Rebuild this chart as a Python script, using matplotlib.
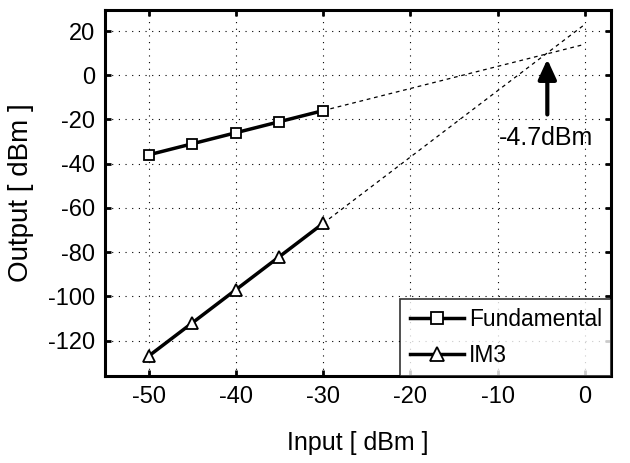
import matplotlib
matplotlib.use("Agg")
import matplotlib.pyplot as plt
import numpy as np

plt.rcParams['font.family'] = ['Liberation Sans', 'DejaVu Sans']
plt.rcParams['axes.unicode_minus'] = False

input_dbm = [-50, -45, -40, -35, -30]
fundamental = [-36, -31, -26, -21, -16]
im3 = [-127, -112, -97, -82, -67]
extrap_x = [-30, 0]
fund_extrap = [-16, 14]
im3_extrap = [-67, 23]
xticks = [-50, -40, -30, -20, -10, 0]
yticks = [20, 0, -20, -40, -60, -80, -100, -120]
iip3_x = -4.7

fig = plt.figure(figsize=(6.3, 4.63), dpi=100)
ax = fig.add_axes([105/630, 1-376/463, (611-105)/630, (376-10)/463])

ax.plot(extrap_x, fund_extrap, color='black', lw=0.9, ls=(0, (3, 3)))
ax.plot(extrap_x, im3_extrap, color='black', lw=0.9, ls=(0, (3, 3)))
ax.plot(input_dbm, fundamental, color='black', lw=2.5, marker='s', ms=7.5,
        mfc='white', mec='black', mew=1.3, label='Fundamental')
ax.plot(input_dbm, im3, color='black', lw=2.5, marker='^', ms=8.5,
        mfc='white', mec='black', mew=1.3, label='IM3')

ax.annotate('', xy=(iip3_x + 0.4, 8.5), xytext=(iip3_x + 0.4, -19),
            arrowprops=dict(arrowstyle='-|>,head_width=0.55,head_length=1.2',
                            color='black', lw=3))
ax.text(-9.9, -28.5, '%.1fdBm' % iip3_x, fontsize=18, va='center', ha='left')

ax.set_xlim(-55, 3)
ax.set_ylim(-136, 29.5)
ax.set_xticks(xticks)
ax.set_yticks(yticks)
ax.grid(True, color='black', ls=(0, (1, 5)), lw=0.8)
ax.tick_params(direction='in', length=4, width=2, labelsize=17, top=True, right=True, pad=7)
for s in ax.spines.values():
    s.set_linewidth(2.2)

ax.set_xlabel('Input [ dBm ]', fontsize=18, labelpad=17)
ax.set_ylabel('Output [ dBm ]', fontsize=20, labelpad=10)

leg = ax.legend(loc='lower right', fontsize=16.4, frameon=True, fancybox=False,
                edgecolor='black', borderaxespad=0, handlelength=2.4,
                handletextpad=0.2, borderpad=0.4, labelspacing=0.55,
                markerscale=1.2)
leg.get_frame().set_linewidth(1.2)

fig.savefig('out.png', dpi=100)
